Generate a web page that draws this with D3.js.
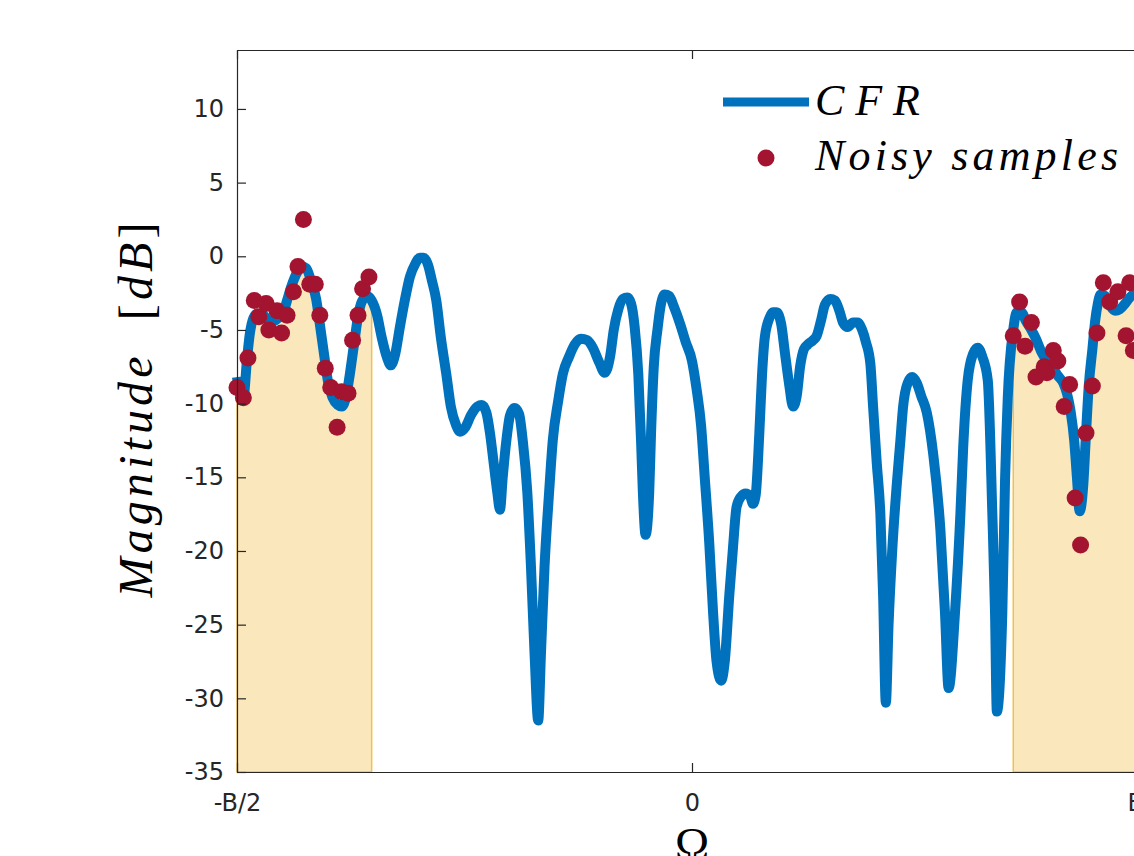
<!DOCTYPE html>
<html>
<head>
<meta charset="utf-8">
<script src="https://cdn.jsdelivr.net/npm/d3@7"></script>
<style>
    body { margin: 0; background: #fff; }
    svg { display: block; }
</style>
</head>
<body>
<svg id="chart" width="1134" height="856"></svg>
<script>
// normalized frequency (Omega / B) and CFR magnitude in dB
const omega = [
    -0.500, -0.497, -0.493, -0.489, -0.486, -0.482, -0.478, -0.471, -0.466, -0.460,
    -0.455, -0.449, -0.445, -0.440, -0.434, -0.429, -0.424, -0.419, -0.413, -0.409,
    -0.404, -0.400, -0.395, -0.389, -0.385, -0.380, -0.376, -0.371, -0.367, -0.363,
    -0.357, -0.352, -0.346, -0.341, -0.335, -0.331, -0.326, -0.321, -0.315, -0.310,
    -0.304, -0.299, -0.295, -0.290, -0.286, -0.281, -0.276, -0.270, -0.265, -0.259,
    -0.255, -0.249, -0.243, -0.236, -0.231, -0.226, -0.222, -0.218, -0.214, -0.211,
    -0.208, -0.204, -0.200, -0.195, -0.190, -0.186, -0.181, -0.177, -0.173, -0.169,
    -0.166, -0.162, -0.157, -0.153, -0.147, -0.142, -0.135, -0.129, -0.122, -0.115,
    -0.109, -0.102, -0.096, -0.090, -0.086, -0.081, -0.076, -0.071, -0.067, -0.063,
    -0.059, -0.056, -0.054, -0.051, -0.047, -0.045, -0.042, -0.038, -0.034, -0.030,
    -0.025, -0.020, -0.013, -0.007, 0.000, 0.005, 0.010, 0.014, 0.019, 0.023,
    0.027, 0.032, 0.036, 0.041, 0.045, 0.049, 0.054, 0.059, 0.064, 0.067,
    0.070, 0.074, 0.077, 0.080, 0.085, 0.089, 0.093, 0.098, 0.102, 0.107,
    0.111, 0.115, 0.119, 0.123, 0.127, 0.133, 0.137, 0.142, 0.146, 0.152,
    0.157, 0.162, 0.166, 0.171, 0.177, 0.182, 0.187, 0.191, 0.196, 0.199,
    0.203, 0.207, 0.210, 0.213, 0.216, 0.220, 0.225, 0.229, 0.232, 0.237,
    0.242, 0.247, 0.252, 0.258, 0.265, 0.273, 0.278, 0.282, 0.289, 0.295,
    0.298, 0.303, 0.309, 0.314, 0.319, 0.325, 0.330, 0.333, 0.335, 0.341,
    0.344, 0.347, 0.353, 0.357, 0.362, 0.367, 0.373, 0.378, 0.384, 0.390,
    0.397, 0.402, 0.408, 0.412, 0.416, 0.420, 0.423, 0.426, 0.430, 0.433,
    0.436, 0.440, 0.443, 0.446, 0.449, 0.454, 0.459, 0.465, 0.470, 0.476,
    0.481, 0.487, 0.493, 0.500
];
const cfrDb = [
    -8.2, -9.3, -9.6, -7.0, -5.3, -4.2, -3.9, -4.0, -4.3, -4.4,
    -4.2, -3.8, -3.0, -2.0, -1.1, -0.7, -0.8, -1.6, -2.9, -4.6,
    -6.8, -8.5, -9.6, -10.1, -10.2, -9.5, -8.0, -5.8, -4.1, -3.1,
    -2.7, -3.0, -4.0, -5.5, -6.9, -7.4, -6.6, -4.8, -2.8, -1.4,
    -0.5, -0.1, -0.1, -0.6, -1.6, -3.0, -5.5, -8.0, -10.2, -11.5,
    -11.9, -11.6, -10.8, -10.2, -10.1, -10.6, -12.0, -14.0, -16.0, -17.2,
    -15.0, -12.5, -10.8, -10.3, -10.7, -12.5, -16.0, -21.0, -27.0, -31.5,
    -27.0, -21.0, -16.0, -12.5, -9.8, -8.0, -6.8, -6.0, -5.6, -5.7,
    -6.2, -7.2, -7.9, -6.8, -5.0, -3.6, -2.9, -2.8, -3.2, -4.8,
    -8.0, -12.5, -16.0, -18.9, -16.0, -12.0, -7.5, -5.0, -3.2, -2.6,
    -2.7, -3.4, -4.6, -5.8, -7.1, -9.0, -11.5, -15.0, -19.5, -24.0,
    -27.5, -28.8, -27.5, -23.0, -19.8, -17.0, -16.3, -16.1, -16.3, -16.8,
    -16.2, -12.0, -8.0, -5.5, -4.2, -3.8, -3.8, -4.6, -6.5, -8.8,
    -10.2, -9.5, -7.4, -6.3, -6.0, -5.7, -5.4, -4.3, -3.3, -2.9,
    -3.0, -3.7, -4.5, -4.8, -4.5, -4.5, -5.0, -5.8, -7.3, -10.2,
    -14.0, -17.5, -23.0, -30.3, -25.0, -20.0, -15.5, -12.5, -10.2, -8.6,
    -8.2, -8.6, -9.5, -10.6, -13.4, -18.6, -24.2, -29.3, -24.2, -17.4,
    -13.0, -8.4, -6.6, -6.2, -6.8, -8.4, -17.4, -24.2, -30.9, -24.2,
    -15.2, -9.6, -5.0, -3.8, -3.8, -4.4, -5.0, -5.6, -6.5, -7.1,
    -7.6, -8.1, -8.6, -9.3, -10.5, -12.5, -15.0, -17.3, -15.5, -12.0,
    -8.8, -6.3, -4.4, -3.2, -2.6, -2.7, -3.3, -3.7, -3.6, -3.2,
    -2.8, -2.5, -2.4, -2.5
];

// noisy samples inside the two observed sub-bands
const sampleOmega = [
    -0.500, -0.493, -0.488, -0.481, -0.476, -0.468, -0.465, -0.456, -0.451, -0.445,
    -0.438, -0.433, -0.427, -0.420, -0.414, -0.409, -0.403, -0.397, -0.390, -0.385,
    -0.378, -0.373, -0.367, -0.362, -0.355,
    0.353, 0.360, 0.366, 0.373, 0.378, 0.387, 0.390, 0.397, 0.402, 0.409,
    0.415, 0.421, 0.427, 0.433, 0.440, 0.445, 0.452, 0.459, 0.468, 0.477,
    0.481, 0.485
];
const sampleDb = [
    -8.9, -9.6, -6.9, -3.0, -4.1, -3.2, -5.0, -3.7, -5.2, -4.0,
    -2.4, -0.7, 2.5, -1.9, -1.9, -4.0, -7.6, -8.9, -11.6, -9.2,
    -9.3, -5.7, -4.0, -2.2, -1.4,
    -5.4, -3.1, -6.1, -4.5, -8.2, -7.5, -7.9, -6.4, -7.1, -10.2,
    -8.7, -16.4, -19.6, -12.0, -8.8, -5.2, -1.8, -3.1, -2.4, -5.4,
    -1.8, -6.4
];

const bands = [[-0.5, -0.352], [0.353, 0.5]];
const yTicks = [-35, -30, -25, -20, -15, -10, -5, 0, 5, 10];
const xTicks = [-0.5, 0, 0.5];
const xTickLabels = ["-B/2", "0", "B/2"];
const legendLabels = ["CFR", "Noisy samples"];

const plot = {left: 237, right: 1147, top: 50, bottom: 772};
const axisColor = "#262626";
const lineColor = "#0072bd";
const dotColor = "#a2142f";
const bandColor = "#edb120";
const mathFont = "'Liberation Serif', 'DejaVu Serif', serif";

const svg = d3.select("#chart");

const x = d3.scaleLinear().domain([-0.5, 0.5]).range([plot.left, plot.right]);
const y = d3.scaleLinear().domain([-35, 14]).range([plot.bottom, plot.top]);

const cfr = omega.map((w, i) => [w, cfrDb[i]]);
const samples = sampleOmega.map((w, i) => [w, sampleDb[i]]);

function drawBands()
{
    const area = d3.area()
        .x(d => x(d[0]))
        .y0(y(-35))
        .y1(d => y(d[1]))
        .curve(d3.curveMonotoneX);

    bands.forEach(([lo, hi]) => {
        const pts = cfr.filter(d => d[0] >= lo && d[0] <= hi);
        svg.append("path")
            .attr("d", area(pts))
            .attr("fill", bandColor)
            .attr("fill-opacity", 0.3)
            .attr("stroke", bandColor)
            .attr("stroke-opacity", 0.75)
            .attr("stroke-width", 1.5);
    });
}

function drawAxes()
{
    // matlab style: plain hyphen minus, ticks pointing into the box
    const left = svg.append("g")
        .attr("transform", `translate(${plot.left},0)`)
        .call(d3.axisLeft(y).tickValues(yTicks)
            .tickFormat(d => String(d))
            .tickSizeInner(-9).tickSizeOuter(0).tickPadding(13));

    const bottom = svg.append("g")
        .attr("transform", `translate(0,${plot.bottom})`)
        .call(d3.axisBottom(x).tickValues(xTicks)
            .tickFormat((d, i) => xTickLabels[i])
            .tickSizeInner(-9).tickSizeOuter(0).tickPadding(22));

    const top = svg.append("g")
        .attr("transform", `translate(0,${plot.top})`)
        .call(d3.axisTop(x).tickValues(xTicks).tickFormat("").tickSizeInner(-9).tickSizeOuter(0));

    [left, bottom, top].forEach(g => {
        g.attr("font-size", null).attr("font-family", null);
        g.select(".domain").attr("stroke", axisColor).attr("stroke-width", 1.2);
        g.selectAll(".tick line").attr("stroke", axisColor).attr("stroke-width", 1.2);
        g.selectAll(".tick text")
            .attr("fill", axisColor)
            .style("font-family", "'DejaVu Sans', sans-serif")
            .style("font-size", "24px");
    });
}

function drawCurve()
{
    const line = d3.line()
        .x(d => x(d[0]))
        .y(d => y(d[1]))
        .curve(d3.curveMonotoneX);

    svg.append("path")
        .attr("d", line(cfr))
        .attr("fill", "none")
        .attr("stroke", lineColor)
        .attr("stroke-width", 10);

    svg.append("g")
        .selectAll("circle")
        .data(samples)
        .join("circle")
        .attr("cx", d => x(d[0]))
        .attr("cy", d => y(d[1]))
        .attr("r", 8.5)
        .attr("fill", dotColor);
}

function drawLabels()
{
    const yLabel = svg.append("text")
        .attr("transform", "translate(152,410) rotate(-90)")
        .attr("text-anchor", "middle")
        .attr("textLength", 375)
        .attr("lengthAdjust", "spacing")
        .attr("fill", "#000")
        .style("font-family", mathFont)
        .style("font-size", "48px");
    yLabel.append("tspan").style("font-style", "italic").text("Magnitude");
    yLabel.append("tspan").text("\u00a0\u00a0[");
    yLabel.append("tspan").style("font-style", "italic").text("dB");
    yLabel.append("tspan").text("]");

    svg.append("text")
        .attr("x", x(0))
        .attr("y", 860)
        .attr("text-anchor", "middle")
        .attr("fill", "#000")
        .style("font-family", mathFont)
        .style("font-size", "46px")
        .text("\u03a9");
}

function drawLegend()
{
    const g = svg.append("g");

    g.append("line")
        .attr("x1", 723).attr("x2", 809)
        .attr("y1", 102).attr("y2", 102)
        .attr("stroke", lineColor)
        .attr("stroke-width", 9);

    g.append("circle")
        .attr("cx", 766).attr("cy", 158)
        .attr("r", 8.5)
        .attr("fill", dotColor);

    const widths = [105, 303];
    const baselines = [115, 170];
    legendLabels.forEach((label, i) => {
        g.append("text")
            .attr("x", 815)
            .attr("y", baselines[i])
            .attr("textLength", widths[i])
            .attr("lengthAdjust", "spacing")
            .attr("fill", "#000")
            .style("font-family", mathFont)
            .style("font-style", "italic")
            .style("font-size", "44px")
            .text(label);
    });
}

drawBands();
drawCurve();
drawAxes();
drawLabels();
drawLegend();
</script>
</body>
</html>
